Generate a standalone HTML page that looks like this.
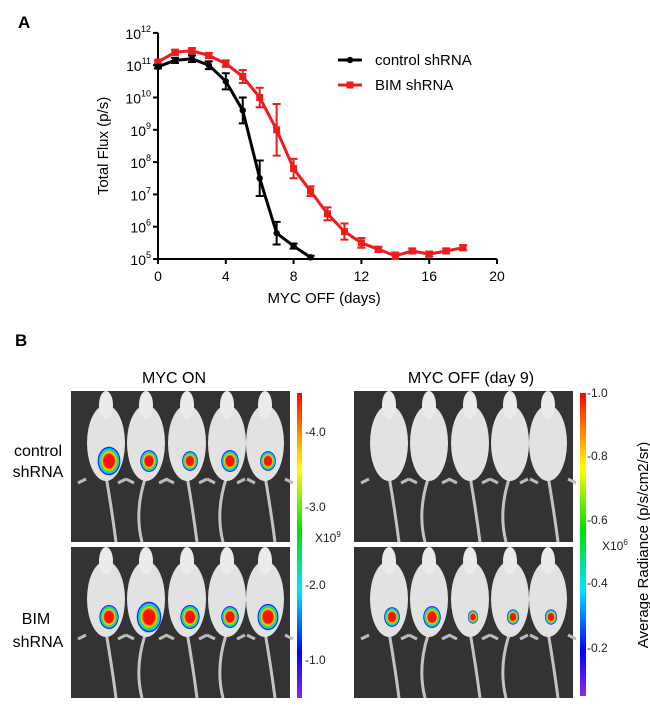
<!DOCTYPE html>
<html><head><meta charset="utf-8"><style>
body{margin:0;background:#fff;width:650px;height:703px;overflow:hidden;font-family:"Liberation Sans",sans-serif}
svg text{font-family:"Liberation Sans",sans-serif}
</style></head><body>
<svg id="fig" width="650" height="703" viewBox="0 0 650 703">
<defs>
<linearGradient id="cb" x1="0" y1="1" x2="0" y2="0">
<stop offset="0" stop-color="#8a2be2"/><stop offset="0.15" stop-color="#0000ff"/><stop offset="0.35" stop-color="#00e5ff"/><stop offset="0.55" stop-color="#00e000"/><stop offset="0.75" stop-color="#ffff00"/><stop offset="0.88" stop-color="#ff8000"/><stop offset="1" stop-color="#ff0000"/>
</linearGradient>
<radialGradient id="blob"><stop offset="0.45" stop-color="#ff1000"/><stop offset="0.6" stop-color="#ffd000"/><stop offset="0.72" stop-color="#30e030"/><stop offset="0.84" stop-color="#00d0ff"/><stop offset="0.93" stop-color="#0000ff"/><stop offset="1" stop-color="#0000ff" stop-opacity="0"/></radialGradient>
</defs>
<text x="18" y="28" font-size="17" font-weight="bold">A</text>
<g id="chart"></g>
<text x="15" y="346" font-size="17" font-weight="bold">B</text>
<text x="174" y="383" font-size="16" text-anchor="middle">MYC ON</text>
<text x="471" y="383" font-size="16" text-anchor="middle">MYC OFF (day 9)</text>
<text x="38" y="456" font-size="16" text-anchor="middle">control</text>
<text x="38" y="477" font-size="16" text-anchor="middle">shRNA</text>
<text x="36" y="624" font-size="16" text-anchor="middle">BIM</text>
<text x="38" y="647" font-size="16" text-anchor="middle">shRNA</text>
<g id="panels"></g>
<rect x="297" y="393" width="5" height="305" fill="url(#cb)"/>
<rect x="580" y="393" width="6" height="303" fill="url(#cb)"/>
<g font-size="12" fill="#222">
<text x="305" y="436">-4.0</text>
<text x="305" y="511">-3.0</text>
<text x="305" y="589">-2.0</text>
<text x="305" y="664">-1.0</text>
<text x="315" y="542">X10<tspan dy="-5" font-size="8">9</tspan></text>
<text x="587" y="397">-1.0</text>
<text x="587" y="460">-0.8</text>
<text x="587" y="524">-0.6</text>
<text x="587" y="587">-0.4</text>
<text x="587" y="652">-0.2</text>
<text x="602" y="550">X10<tspan dy="-5" font-size="8">6</tspan></text>
</g>
<text transform="translate(648,545) rotate(-90)" font-size="15" text-anchor="middle">Average Radiance (p/s/cm2/sr)</text>
</svg>
<script>
const days=[0,1,2,3,4,5,6,7,8,9,10,11,12,13,14,15,16,17,18];
const controlLog=[10.95,11.15,11.2,11.0,10.5,9.6,7.5,5.8,5.4,5.05];
const controlErr=[0.05,0.08,0.1,0.12,0.25,0.4,0.55,0.35,0.08,0.05];
const bimLog=[11.1,11.4,11.45,11.3,11.05,10.65,10.0,9.0,7.8,7.1,6.4,5.85,5.5,5.3,5.1,5.25,5.15,5.25,5.35];
const bimErr=[0.05,0.08,0.08,0.08,0.1,0.2,0.3,0.8,0.3,0.15,0.2,0.25,0.15,0.08,0.1,0.08,0.08,0.08,0.08];
const xTicks=[0,4,8,12,16,20];
const yTicks=[5,6,7,8,9,10,11,12];
const NS="http://www.w3.org/2000/svg";
const g=document.getElementById('chart');
const X=d=>158+d*16.95, Y=l=>259-(l-5)*32.3;
function mk(t,a,p){const e=document.createElementNS(NS,t);for(const k in a)e.setAttribute(k,a[k]);(p||g).appendChild(e);return e;}
const ax=mk('path',{d:`M158,${Y(12)}V259H${X(20)}`,stroke:'#000','stroke-width':2,fill:'none'});


yTicks.forEach(v=>{
 const t=mk('line',{x1:153,x2:158,y1:Y(v),y2:Y(v),stroke:'#000','stroke-width':2});
 
 
 const tx=mk('text',{x:151,y:Y(v)+6,'font-size':14,'text-anchor':'end'});
 tx.innerHTML='10<tspan dy="-7" font-size="9">'+v+'</tspan>';
 
 
});
xTicks.forEach(v=>{
 const t=mk('line',{x1:X(v),x2:X(v),y1:259,y2:264,stroke:'#000','stroke-width':2});
 
 
 const tx=mk('text',{x:X(v),y:281,'font-size':14,'text-anchor':'middle'});
 tx.textContent=v;
 
 
});
const xt=mk('text',{x:X(9.8),y:303,'font-size':15,'text-anchor':'middle'});xt.textContent='MYC OFF (days)';


const yt=mk('text',{transform:'translate(108,146) rotate(-90)','font-size':15,'text-anchor':'middle'});yt.textContent='Total Flux (p/s)';


function series(vals,errs,col,name,sq){
 const pts=vals.map((v,i)=>X(days[i])+','+Y(v)).join(' ');
 const l=mk('polyline',{points:pts,fill:'none',stroke:col,'stroke-width':3});
 
 
 vals.forEach((v,i)=>{
  const x=X(days[i]),y1=Y(v+errs[i]),y2=Y(Math.max(5,v-errs[i]));
  const e=mk('path',{d:`M${x},${y1}V${y2}M${x-4},${y1}H${x+4}M${x-4},${y2}H${x+4}`,stroke:col,'stroke-width':2,fill:'none'});
  
  
  const m=sq?mk('rect',{x:x-3.5,y:Y(v)-3.5,width:7,height:7,fill:col}):mk('circle',{cx:x,cy:Y(v),r:3.2,fill:col});
  
  
 });
}
series(bimLog,bimErr,'#ee1c1c','bim',true);
series(controlLog,controlErr,'#000','control',false);
[['control shRNA','#000',60,false],['BIM shRNA','#ee1c1c',85,true]].forEach(([t,c,y,sq])=>{
 const l=mk('line',{x1:338,x2:362,y1:y,y2:y,stroke:c,'stroke-width':3});
 
 
 const m=sq?mk('rect',{x:346.5,y:y-3.5,width:7,height:7,fill:c}):mk('circle',{cx:350,cy:y,r:3.2,fill:c});
 
 
 const tx=mk('text',{x:375,y:y+5,'font-size':15});tx.textContent=t;
 
 
});
const P=document.getElementById('panels');
const panels=[[71,391,'top-left',[1.3,1.0,0.9,1.0,0.9]],[354,391,'top-right',null],[71,547,'bottom-left',[1.1,1.4,1.1,1.0,1.2]],[354,547,'bottom-right',[0.9,1.0,0.6,0.7,0.7]]];
panels.forEach(([px,py,nm,bl])=>{
 const pg=mk('g',{},P);
 
 
 mk('rect',{x:px,y:py,width:219,height:151,fill:'#333'},pg);
 [35,75,116,156,194].forEach((cx,i)=>{
  const x=px+cx;
  mk('path',{d:`M${x},${py+85} q${i%2?-12:6},35 ${i%2?-4:10},66`,stroke:'#c4c4c4','stroke-width':3,fill:'none'},pg);
  mk('ellipse',{cx:x,cy:py+52,rx:19,ry:38,fill:'#e2e2e2'},pg);
  mk('ellipse',{cx:x,cy:py+14,rx:7,ry:14,fill:'#ebebeb'},pg);
  mk('path',{d:`M${x-20},${py+88}l-8,4M${x+20},${py+88}l8,4`,stroke:'#bbb','stroke-width':3},pg);
  if(bl){const r=9*bl[i];mk('ellipse',{cx:x+3,cy:py+70,rx:r,ry:r*1.25,fill:'url(#blob)'},pg);}
 });
});
</script>
</body></html>
